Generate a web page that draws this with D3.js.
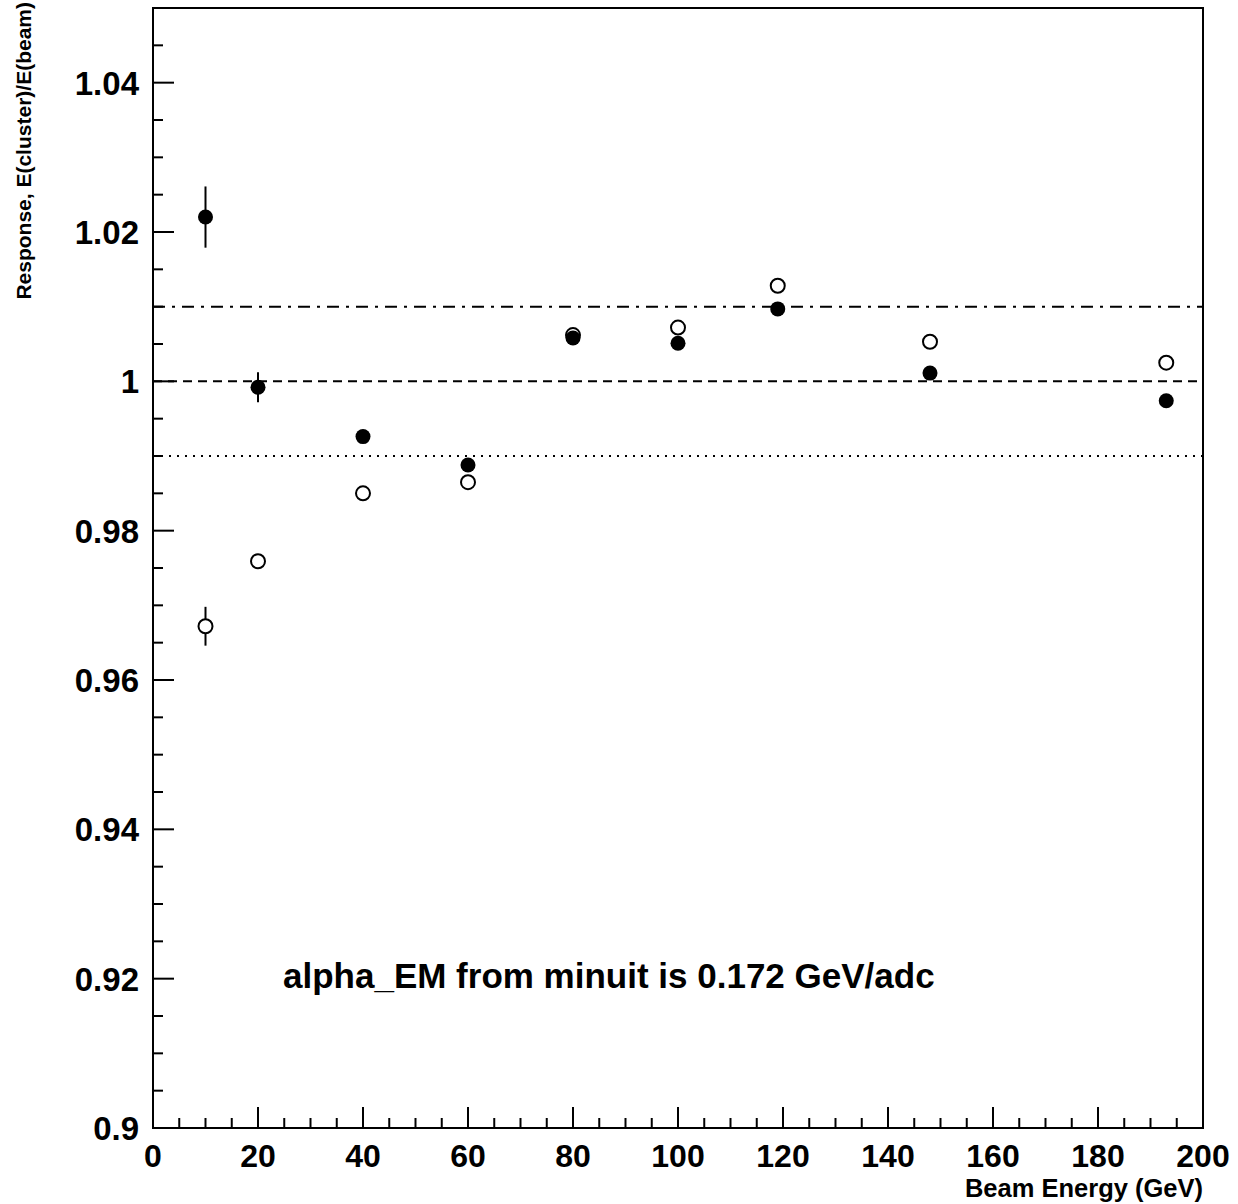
<!DOCTYPE html>
<html>
<head>
<meta charset="utf-8">
<script src="https://cdn.jsdelivr.net/npm/d3@7"></script>
<style>
  body { margin: 0; background: #fff; }
  text { font-family: "Liberation Sans", Arial, sans-serif; font-weight: bold; fill: #000; }
</style>
</head>
<body>
<div id="chart"></div>
<script>
// Beam energies (GeV)
const energies = [10, 20, 40, 60, 80, 100, 119, 148, 193];
// filled markers
const filledResp = [1.0220, 0.9992, 0.9926, 0.9888, 1.0058, 1.0051, 1.0097, 1.0011, 0.9974];
const filledErr  = [0.0041, 0.0020, 0, 0, 0, 0, 0, 0, 0];
// open markers
const openResp = [0.9672, 0.9759, 0.9850, 0.9865, 1.0062, 1.0072, 1.0128, 1.0053, 1.0025];
const openErr  = [0.0026, 0, 0, 0, 0, 0, 0, 0, 0];
// reference lines
const refLines = [
  { value: 1.01, dash: '12,7,3,7' },
  { value: 1.00, dash: '9,6' },
  { value: 0.99, dash: '2,6' }
];
const xTicks = [0, 20, 40, 60, 80, 100, 120, 140, 160, 180, 200];
const yTicks = [0.9, 0.92, 0.94, 0.96, 0.98, 1.0, 1.02, 1.04];
const note = 'alpha_EM from minuit is 0.172 GeV/adc';

const width = 1238, height = 1204;
const m = { left: 153, right: 1203, top: 8, bottom: 1128 };

const svg = d3.select('#chart').append('svg')
  .attr('width', width).attr('height', height);

const x = d3.scaleLinear().domain([0, 200]).range([m.left, m.right]);
const y = d3.scaleLinear().domain([0.9, 1.05]).range([m.bottom, m.top]);

// frame
svg.append('rect')
  .attr('x', m.left).attr('y', m.top)
  .attr('width', m.right - m.left).attr('height', m.bottom - m.top)
  .attr('fill', 'none').attr('stroke', '#000').attr('stroke-width', 2);

// x ticks (inward), major every 20, minor every 5
const xMinor = d3.range(0, 201, 5);
svg.append('g').selectAll('line').data(xMinor).join('line')
  .attr('x1', d => x(d)).attr('x2', d => x(d))
  .attr('y1', m.bottom)
  .attr('y2', d => m.bottom - (d % 20 === 0 ? 21 : 10))
  .attr('stroke', '#000').attr('stroke-width', 2);

svg.append('g').selectAll('text').data(xTicks).join('text')
  .attr('x', d => x(d)).attr('y', 1167)
  .attr('text-anchor', 'middle').style('font-size', '32px')
  .text(d => d);

// y ticks (inward), major every 0.02, minor every 0.005
const yMinor = d3.range(0, 31).map(i => 0.9 + i * 0.005);
svg.append('g').selectAll('line').data(yMinor).join('line')
  .attr('x1', m.left)
  .attr('x2', (d, i) => m.left + (i % 4 === 0 ? 21 : 10))
  .attr('y1', d => y(d)).attr('y2', d => y(d))
  .attr('stroke', '#000').attr('stroke-width', 2);

svg.append('g').selectAll('text').data(yTicks).join('text')
  .attr('x', 139).attr('y', d => y(d) + 12)
  .attr('text-anchor', 'end').style('font-size', '33px')
  .text(d => d3.format('')(+d.toFixed(2)));

// reference lines
svg.append('g').selectAll('line').data(refLines).join('line')
  .attr('x1', m.left).attr('x2', m.right)
  .attr('y1', d => y(d.value)).attr('y2', d => y(d.value))
  .attr('stroke', '#000').attr('stroke-width', 2)
  .attr('stroke-dasharray', d => d.dash);

// error bars
function errBars(resp, err) {
  const pts = energies.map((e, i) => ({ e, v: resp[i], s: err[i] })).filter(d => d.s > 0);
  svg.append('g').selectAll('line').data(pts).join('line')
    .attr('x1', d => x(d.e)).attr('x2', d => x(d.e))
    .attr('y1', d => y(d.v - d.s)).attr('y2', d => y(d.v + d.s))
    .attr('stroke', '#000').attr('stroke-width', 2);
}
errBars(openResp, openErr);
errBars(filledResp, filledErr);

// open markers
svg.append('g').selectAll('circle').data(energies).join('circle')
  .attr('cx', d => x(d)).attr('cy', (d, i) => y(openResp[i]))
  .attr('r', 7)
  .attr('fill', '#fff').attr('stroke', '#000').attr('stroke-width', 2);

// filled markers
svg.append('g').selectAll('circle').data(energies).join('circle')
  .attr('cx', d => x(d)).attr('cy', (d, i) => y(filledResp[i]))
  .attr('r', 7.5).attr('fill', '#000');

// annotation
svg.append('text')
  .attr('x', 283).attr('y', 988)
  .style('font-size', '35px')
  .text(note);

// axis titles
svg.append('text')
  .attr('x', 1203).attr('y', 1197)
  .attr('text-anchor', 'end').style('font-size', '25.5px')
  .text('Beam Energy (GeV)');

svg.append('text')
  .attr('transform', 'translate(31,2) rotate(-90)')
  .attr('text-anchor', 'end').style('font-size', '21px')
  .text('Response, E(cluster)/E(beam)');
</script>
</body>
</html>
